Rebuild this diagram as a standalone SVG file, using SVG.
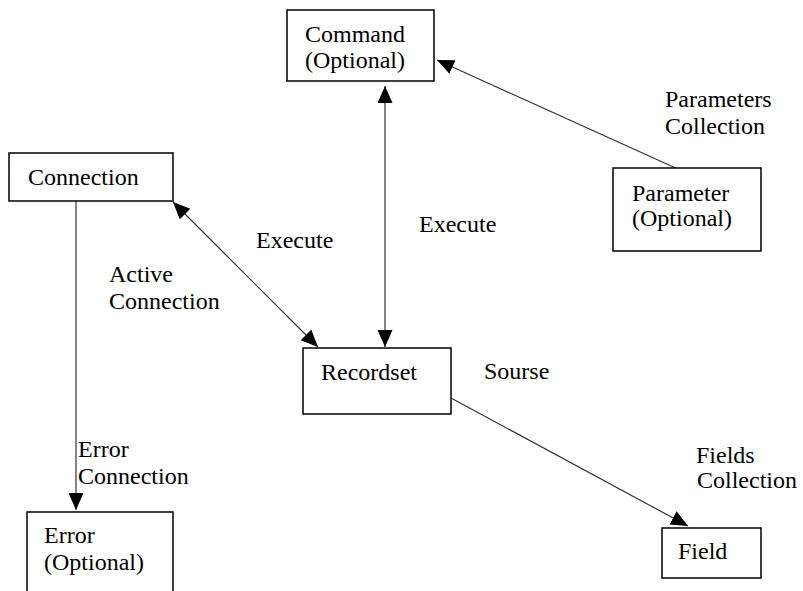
<svg xmlns="http://www.w3.org/2000/svg" width="803" height="591" viewBox="0 0 803 591">
  <style>
    .box { fill: #ffffff; stroke: #000000; stroke-width: 1.5; }
    .lbl { font-family: "Liberation Serif", "Times New Roman", "DejaVu Serif", serif; font-size: 24px; fill: #000000; }
    .edge { stroke: #333333; stroke-width: 1.2; fill: none; }
  </style>
  <defs>
    <marker id="arrow" markerUnits="userSpaceOnUse" markerWidth="18" markerHeight="16" refX="17" refY="7.5" orient="auto-start-reverse">
      <path d="M0,0 L17,7.5 L0,15 z" fill="#000000"/>
    </marker>
  </defs>
  <rect width="803" height="591" fill="#ffffff"/>

  <g id="connectors">
    <line class="edge" x1="385" y1="86" x2="385" y2="347" marker-start="url(#arrow)" marker-end="url(#arrow)"/>
    <line class="edge" x1="173" y1="202" x2="318" y2="347" marker-start="url(#arrow)" marker-end="url(#arrow)"/>
    <line class="edge" x1="680" y1="170" x2="437" y2="60" marker-end="url(#arrow)"/>
    <line class="edge" x1="76" y1="201" x2="76" y2="510" marker-end="url(#arrow)"/>
    <line class="edge" x1="451" y1="398" x2="688" y2="526" marker-end="url(#arrow)"/>
  </g>

  <g id="edge-labels">
    <text class="lbl" x="665" y="107">Parameters</text>
    <text class="lbl" x="665" y="134">Collection</text>
    <text class="lbl" x="256" y="248">Execute</text>
    <text class="lbl" x="419" y="232">Execute</text>
    <text class="lbl" x="109" y="282">Active</text>
    <text class="lbl" x="109" y="309">Connection</text>
    <text class="lbl" x="78" y="457">Error</text>
    <text class="lbl" x="78" y="484">Connection</text>
    <text class="lbl" x="484" y="379">Sourse</text>
    <text class="lbl" x="696" y="463">Fields</text>
    <text class="lbl" x="697" y="488">Collection</text>
  </g>

  <g id="command">
    <rect class="box" x="287" y="10" width="147" height="71"/>
    <text class="lbl" x="305" y="42">Command</text>
    <text class="lbl" x="305" y="68">(Optional)</text>
  </g>

  <g id="connection">
    <rect class="box" x="9" y="153" width="164" height="48"/>
    <text class="lbl" x="28" y="185">Connection</text>
  </g>

  <g id="parameter">
    <rect class="box" x="613" y="168" width="148" height="83"/>
    <text class="lbl" x="632" y="201">Parameter</text>
    <text class="lbl" x="632" y="226">(Optional)</text>
  </g>

  <g id="recordset">
    <rect class="box" x="303" y="348" width="148" height="66"/>
    <text class="lbl" x="321" y="380">Recordset</text>
  </g>

  <g id="error">
    <rect class="box" x="27" y="512" width="146" height="100"/>
    <text class="lbl" x="44" y="543">Error</text>
    <text class="lbl" x="44" y="570">(Optional)</text>
  </g>

  <g id="field">
    <rect class="box" x="662" y="528" width="99" height="50"/>
    <text class="lbl" x="678" y="559">Field</text>
  </g>
</svg>
